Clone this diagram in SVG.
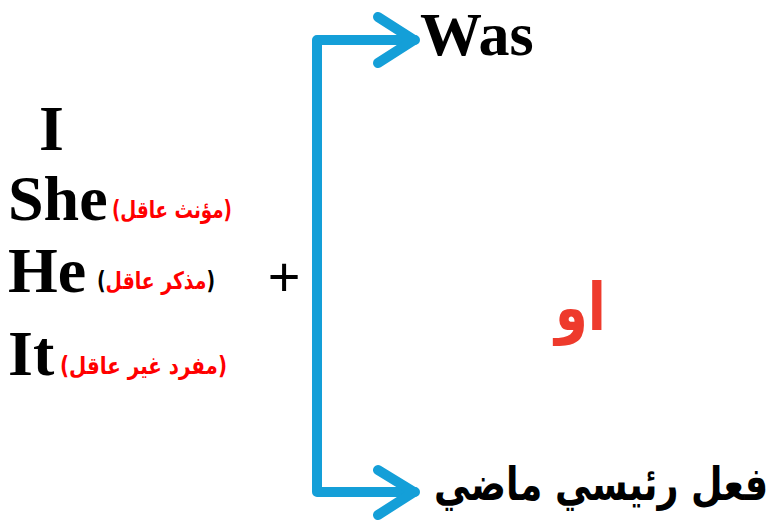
<svg xmlns="http://www.w3.org/2000/svg" width="772" height="525" viewBox="0 0 772 525">
<style>
.en{font-family:"Liberation Serif","Times New Roman",serif;font-weight:bold;fill:#000}
.ar{font-family:"DejaVu Sans",sans-serif;font-weight:bold}
.red{fill:#FF0000}
.conn{fill:none;stroke:#149FD8;stroke-width:10;stroke-linecap:round;stroke-linejoin:round}
</style>
<rect width="772" height="525" fill="#fff"/>
<g id="connectors">
<path class="conn" d="M415,40 H317 V492 H415"/>
<path class="conn" d="M378,17 L414,40 L378,63"/>
<path class="conn" d="M378,470 L414,492 L378,515"/>
</g>
<g id="node-was"><text class="en" x="420" y="55" font-size="62">Was</text></g>
<g id="node-i"><text class="en" x="39" y="150" font-size="64">I</text></g>
<g id="node-she"><text class="en" x="8" y="220" font-size="64">She</text>
<text class="ar red" x="232" y="218" font-size="24" textLength="120" lengthAdjust="spacingAndGlyphs" direction="rtl">(مؤنث عاقل)</text></g>
<g id="node-he"><text class="en" x="8" y="292" font-size="64">He</text>
<text class="ar red" x="215" y="289" font-size="24" textLength="118" lengthAdjust="spacingAndGlyphs" direction="rtl"><tspan fill="#000">(</tspan>مذكر عاقل<tspan fill="#000">)</tspan></text></g>
<g id="node-it"><text class="en" x="8" y="375" font-size="64">It</text>
<text class="ar red" x="227" y="374" font-size="24" textLength="167" lengthAdjust="spacingAndGlyphs" direction="rtl">(مفرد غير عاقل)</text></g>
<g id="node-plus"><text x="284" y="296" font-size="56" font-family="Liberation Sans,sans-serif" text-anchor="middle" fill="#000">+</text></g>
<g id="node-or"><text class="ar" x="606" y="330" font-size="66" fill="#EE3A2C" textLength="51" lengthAdjust="spacingAndGlyphs" direction="rtl">او</text></g>
<g id="node-verb"><text class="ar" x="768" y="500" font-size="46" fill="#000" textLength="334" lengthAdjust="spacingAndGlyphs" direction="rtl">فعل رئيسي ماضي</text></g>
</svg>
